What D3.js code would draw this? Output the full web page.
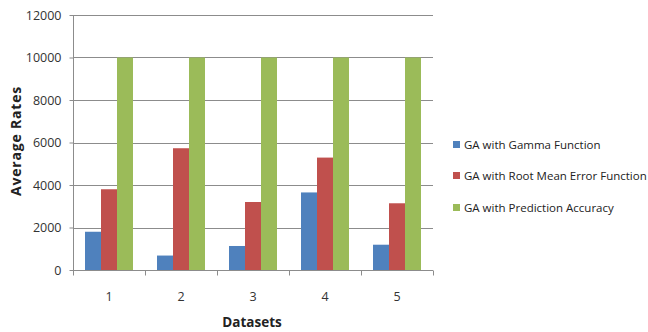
<!DOCTYPE html>
<html>
<head>
<meta charset="utf-8">
<script src="https://cdn.jsdelivr.net/npm/d3@7"></script>
<style>
  html, body { margin: 0; padding: 0; background: #fff; }
  svg { display: block; }
  text { font-family: "Open Sans", "DejaVu Sans", sans-serif; }
</style>
</head>
<body>
<svg id="chart" width="648" height="332"></svg>
<script>
// Dataset categories and the three GA variants
const datasets = ["1", "2", "3", "4", "5"];
const seriesNames = [
  "GA with Gamma Function",
  "GA with Root Mean Error Function",
  "GA with Prediction Accuracy"
];
const gammaFunction = [1800, 680, 1130, 3650, 1190];
const rootMeanError = [3800, 5730, 3200, 5290, 3140];
const predictionAccuracy = [10000, 10000, 10000, 10000, 10000];
const yTicks = [0, 2000, 4000, 6000, 8000, 10000, 12000];
const colors = ["#4F81BD", "#C0504D", "#9BBB59"];

const seriesValues = [gammaFunction, rootMeanError, predictionAccuracy];

const svg = d3.select("#chart");
const plot = { left: 73, right: 433, top: 15, bottom: 270 };

const x = d3.scaleBand().domain(datasets).range([plot.left, plot.right]).paddingInner(0).paddingOuter(0);
const inner = d3.scaleBand().domain(d3.range(3)).range([0, x.bandwidth()]).paddingInner(0).paddingOuter(0.75);
const y = d3.scaleLinear().domain([0, 12000]).range([plot.bottom, plot.top]);

const gridColor = "#8c8c8c";

// horizontal gridlines
svg.append("g").selectAll("line").data(yTicks.filter(d => d > 0)).join("line")
  .attr("x1", plot.left).attr("x2", plot.right)
  .attr("y1", d => Math.round(y(d)) + 0.5).attr("y2", d => Math.round(y(d)) + 0.5)
  .attr("stroke", gridColor).attr("stroke-width", 1);

// bars
const groups = svg.append("g").selectAll("g").data(datasets).join("g")
  .attr("transform", d => `translate(${x(d)},0)`);
groups.selectAll("rect").data((d, i) => seriesValues.map((vals, s) => ({ s, v: vals[i] }))).join("rect")
  .attr("x", d => inner(d.s))
  .attr("width", inner.bandwidth())
  .attr("y", d => y(d.v))
  .attr("height", d => y(0) - y(d.v))
  .attr("fill", d => colors[d.s]);

// y axis
const yAxis = svg.append("g").attr("transform", `translate(${plot.left + 0.5},0)`)
  .call(d3.axisLeft(y).tickValues(yTicks).tickFormat(d3.format("d")).tickSize(4).tickPadding(8));
yAxis.select(".domain").attr("stroke", gridColor).attr("d", `M0,${plot.top}V${plot.bottom}`);
yAxis.selectAll(".tick line").attr("stroke", gridColor);
yAxis.selectAll(".tick text").attr("font-size", 12.5).attr("fill", "#333").attr("font-family", "Open Sans, sans-serif");

// x axis with ticks between categories
const xAxisG = svg.append("g").attr("transform", `translate(0,${Math.round(plot.bottom) + 0.5})`);
xAxisG.append("line").attr("x1", plot.left).attr("x2", plot.right).attr("stroke", gridColor);
xAxisG.selectAll(".sep").data(datasets.concat(["end"])).join("line")
  .attr("class", "sep")
  .attr("x1", (d, i) => Math.round(plot.left + i * x.bandwidth()) + 0.5)
  .attr("x2", (d, i) => Math.round(plot.left + i * x.bandwidth()) + 0.5)
  .attr("y1", 0).attr("y2", 5).attr("stroke", gridColor);
xAxisG.selectAll(".lbl").data(datasets).join("text")
  .attr("class", "lbl")
  .attr("x", d => x(d) + x.bandwidth() / 2)
  .attr("y", 30)
  .attr("text-anchor", "middle")
  .attr("font-size", 12.5).attr("fill", "#333")
  .text(d => d);

// axis titles
svg.append("text")
  .attr("x", 252).attr("y", 327)
  .attr("text-anchor", "middle")
  .attr("font-size", 13.5).attr("font-weight", "bold").attr("fill", "#222")
  .text("Datasets");
svg.append("text")
  .attr("transform", "translate(21,141) rotate(-90)")
  .attr("text-anchor", "middle")
  .attr("font-size", 14).attr("font-weight", "bold").attr("fill", "#222")
  .attr("letter-spacing", 0.8)
  .text("Average Rates");

// legend
const legend = svg.append("g").attr("transform", "translate(453,145)");
const items = legend.selectAll("g").data(seriesNames).join("g")
  .attr("transform", (d, i) => `translate(0,${[0, 31, 63][i]})`);
items.append("rect").attr("x", 0).attr("y", -4).attr("width", 7).attr("height", 7)
  .attr("fill", (d, i) => colors[i]);
items.append("text").attr("x", 11).attr("y", 0).attr("dy", "0.35em")
  .attr("font-size", 11.5).attr("fill", "#222")
  .text(d => d);
</script>
</body>
</html>
